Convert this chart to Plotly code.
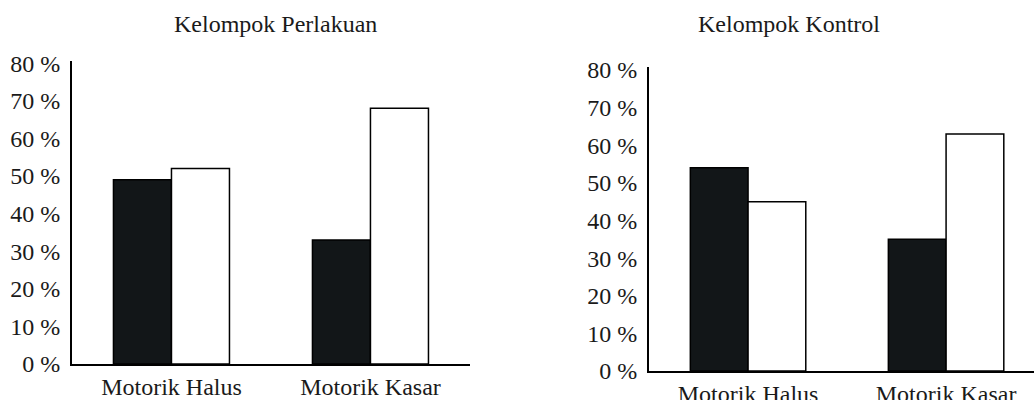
import plotly.graph_objects as go

categories = ["Motorik Halus", "Motorik Kasar"]
perlakuan_dark = [49, 33]
perlakuan_light = [52, 68]
kontrol_dark = [54, 35]
kontrol_light = [45, 63]
tick_vals = [0, 10, 20, 30, 40, 50, 60, 70, 80]
tick_text = ["0 %", "10 %", "20 %", "30 %", "40 %", "50 %", "60 %", "70 %", "80 %"]
titles = ["Kelompok Perlakuan", "Kelompok Kontrol"]

FONT = "Liberation Serif"
DARK = "#121618"
TXT = "#1a1a1a"

fig = go.Figure()
for xa, ya, dark, light in [("x", "y", perlakuan_dark, perlakuan_light),
                            ("x2", "y2", kontrol_dark, kontrol_light)]:
    fig.add_trace(go.Bar(x=categories, y=dark, xaxis=xa, yaxis=ya,
                         marker=dict(color=DARK, line=dict(color="black", width=1.5)),
                         showlegend=False, name="Gelap"))
    fig.add_trace(go.Bar(x=categories, y=light, xaxis=xa, yaxis=ya,
                         marker=dict(color="white", line=dict(color="black", width=1.5)),
                         showlegend=False, name="Putih"))

axis_common = dict(showgrid=False, zeroline=False, showline=True, linecolor="black",
                   linewidth=2, ticks="", automargin=False,
                   tickfont=dict(family=FONT, size=24, color=TXT))

fig.update_layout(
    width=1034, height=400,
    margin=dict(l=0, r=0, t=0, b=0, autoexpand=False),
    paper_bgcolor="white", plot_bgcolor="white",
    font=dict(family=FONT, color=TXT),
    barmode="group", bargap=0.417, bargroupgap=0,
    xaxis=dict(domain=[0.0696, 0.4545], range=[-0.5, 1.5], anchor="y", **axis_common),
    yaxis=dict(domain=[0.09, 0.8475], range=[0, 80.6], anchor="x", tickmode="array",
               tickvals=tick_vals, ticktext=tick_text, ticklabelstandoff=5, **axis_common),
    xaxis2=dict(domain=[0.6277, 1.0], range=[-0.5, 1.444], anchor="y2", **axis_common),
    yaxis2=dict(domain=[0.0725, 0.8325], range=[0, 80.8], anchor="x2", tickmode="array",
                tickvals=tick_vals, ticktext=tick_text, ticklabelstandoff=5, **axis_common),
    annotations=[
        dict(text=titles[0], x=0.2669, y=0.94, xref="paper", yref="paper",
             xanchor="center", yanchor="middle",
             showarrow=False, font=dict(family=FONT, size=24, color=TXT)),
        dict(text=titles[1], x=0.763, y=0.94, xref="paper", yref="paper",
             xanchor="center", yanchor="middle",
             showarrow=False, font=dict(family=FONT, size=24, color=TXT)),
    ],
)

fig.write_html("out.html",
               config={"displayModeBar": False},
               post_script="document.body.style.margin='0';document.body.style.overflow='hidden';")
